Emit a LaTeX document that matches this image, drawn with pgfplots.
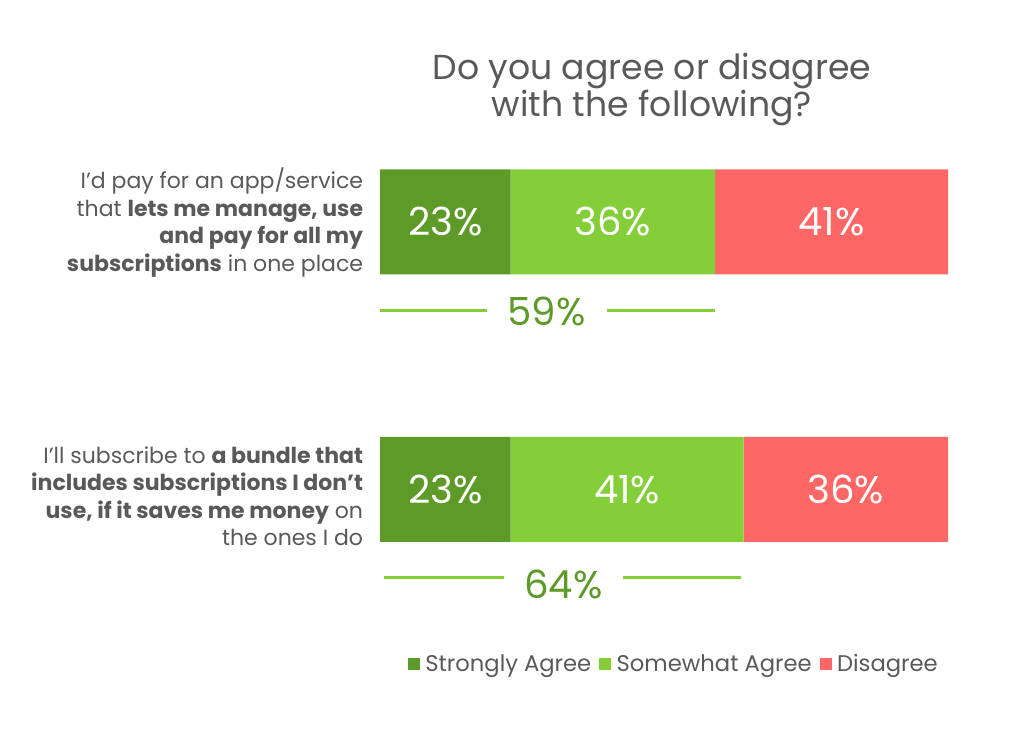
\documentclass[border=0pt]{standalone}
\usepackage{pgfplots}
\pgfplotsset{compat=1.18}
\usepackage{fontspec}
\setmainfont{Poppins}
\definecolor{dg}{HTML}{5E9A28}
\definecolor{lg}{HTML}{84CE3A}
\definecolor{rd}{HTML}{FF6666}
\definecolor{tg}{HTML}{595959}
\pgfplotsset{geom/.style={at={(285pt,-46pt)}, anchor=north west,
  scale only axis, width=426pt, height=481.5pt,
  xmin=0, xmax=100, ymin=-0.8, ymax=1.6, hide axis}}
\tikzset{inlab/.style={text=white, font=\fontsize{29}{30}\selectfont}}
\begin{document}
\begin{tikzpicture}
\path[use as bounding box] (0,0) rectangle (768pt,-553.5pt);
\begin{axis}[geom,
  xbar stacked, bar width=78.75pt,
  legend columns=3,
  legend style={at={(axis cs:51.8,-0.653)}, anchor=center, draw=none, fill=none,
    font=\fontsize{17}{19}\selectfont, text=tg,
    /tikz/every odd column/.append style={column sep=2pt},
    /tikz/every even column/.append style={column sep=4pt}},
  legend image code/.code={\fill[#1,draw=none] (0pt,-4.5pt) rectangle (9pt,4.5pt);},
]
\addplot[fill=dg, draw=none] coordinates {(23,1) (23,0)};
\addlegendentry{Strongly Agree}
\addplot[fill=lg, draw=none] coordinates {(36,1) (41,0)};
\addlegendentry{Somewhat Agree}
\addplot[fill=rd, draw=none] coordinates {(41,1) (36,0)};
\addlegendentry{Disagree}
\end{axis}
\begin{axis}[geom]
\addplot[lg, line width=2.25pt] coordinates {(0,0.67) (18.9,0.67)};
\addplot[lg, line width=2.25pt] coordinates {(39.9,0.67) (58.9,0.67)};
\addplot[lg, line width=2.25pt] coordinates {(0.7,-0.33) (21.8,-0.33)};
\addplot[lg, line width=2.25pt] coordinates {(42.8,-0.33) (63.6,-0.33)};
\node[text=dg, font=\fontsize{29}{30}\selectfont] at (axis cs:29.3,0.663) {59\%};
\node[text=dg, font=\fontsize{29}{30}\selectfont] at (axis cs:32.3,-0.354) {64\%};
\node[inlab] at (axis cs:11.5,1) {23\%};
\node[inlab] at (axis cs:41,1) {36\%};
\node[inlab] at (axis cs:79.5,1) {41\%};
\node[inlab] at (axis cs:11.5,0) {23\%};
\node[inlab] at (axis cs:43.5,0) {41\%};
\node[inlab] at (axis cs:82,0) {36\%};
\end{axis}
\node[align=center, text=tg, font=\fontsize{26}{27.5}\selectfont] at (489pt,-67pt)
  {Do you agree or disagree\\with the following?};
\node[anchor=east, align=right, inner sep=0pt, text=tg, font=\fontsize{16.5}{20.6}\selectfont] at (272.5pt,-167pt)
  {I’d pay for an app/service\\that \textbf{lets me manage, use}\\\textbf{and pay for all my}\\\textbf{subscriptions} in one place};
\node[anchor=east, align=right, inner sep=0pt, text=tg, font=\fontsize{16.5}{20.6}\selectfont] at (272.5pt,-372pt)
  {I’ll subscribe to \textbf{a bundle that}\\\textbf{includes subscriptions I don’t}\\\textbf{use, if it saves me money} on\\the ones I do};
\end{tikzpicture}
\end{document}
